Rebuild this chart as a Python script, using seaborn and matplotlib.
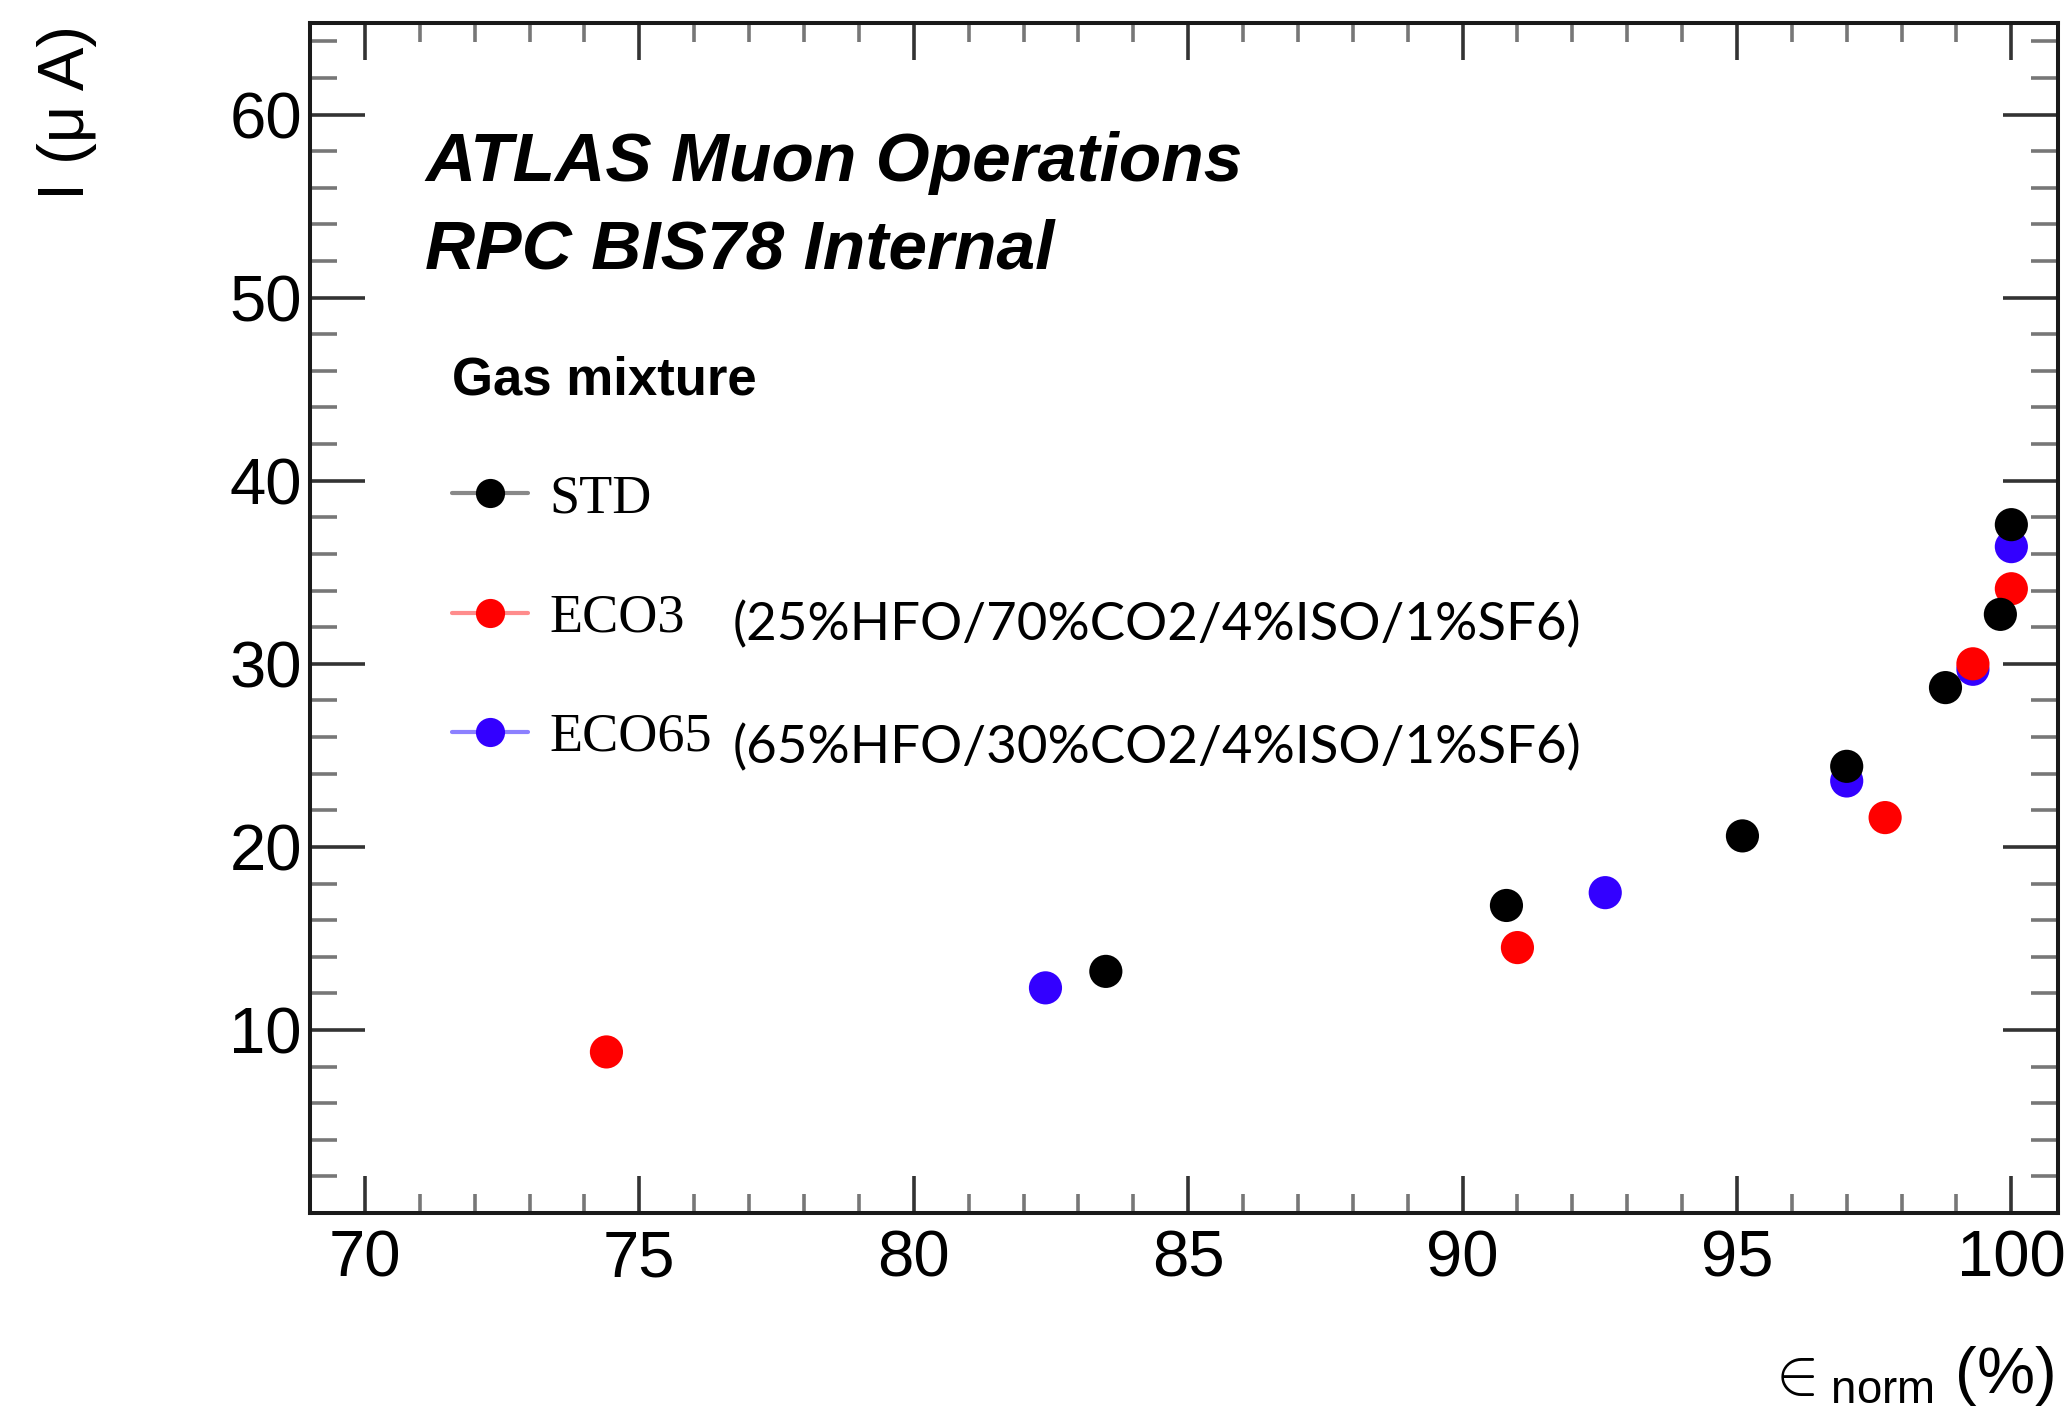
import matplotlib
matplotlib.use("Agg")
import matplotlib.pyplot as plt
from matplotlib.lines import Line2D
from matplotlib.ticker import MultipleLocator
import pandas as pd
import seaborn as sns

# Données : efficacité normalisée (%) et courant (uA)
std_eff = [83.5, 90.8, 95.1, 97.0, 98.8, 99.8, 100.0]
std_cur = [13.2, 16.8, 20.6, 24.4, 28.7, 32.7, 37.6]

eco3_eff = [74.4, 91.0, 97.7, 99.3, 100.0]
eco3_cur = [8.8, 14.5, 21.6, 30.0, 34.1]

eco65_eff = [82.4, 92.6, 97.0, 99.3, 100.0]
eco65_cur = [12.3, 17.5, 23.6, 29.7, 36.4]

mixtures = ["STD", "ECO3", "ECO65"]
compositions = {"ECO3": "(25%HFO/70%CO2/4%ISO/1%SF6)",
                "ECO65": "(65%HFO/30%CO2/4%ISO/1%SF6)"}
colors = {"STD": "black", "ECO3": "#ff0000", "ECO65": "#3300ff"}
line_colors = {"STD": "#888888", "ECO3": "#ff8c8c", "ECO65": "#8c80ff"}

# ECO65 d'abord, STD en dernier (dessiné au-dessus)
df = pd.concat([
    pd.DataFrame({"eff": eco65_eff, "cur": eco65_cur, "mix": "ECO65"}),
    pd.DataFrame({"eff": eco3_eff, "cur": eco3_cur, "mix": "ECO3"}),
    pd.DataFrame({"eff": std_eff, "cur": std_cur, "mix": "STD"}),
], ignore_index=True)

sns.set_style("white")
plt.rcParams["font.family"] = ["Liberation Sans", "DejaVu Sans"]
plt.rcParams["text.color"] = "black"
plt.rcParams["axes.labelcolor"] = "black"
plt.rcParams["mathtext.fontset"] = "custom"
plt.rcParams["mathtext.rm"] = "Liberation Sans"
plt.rcParams["mathtext.it"] = "Liberation Sans:italic"
plt.rcParams["mathtext.bf"] = "Liberation Sans:bold"

fig = plt.figure(figsize=(20.7, 14.12), dpi=100)
ax = fig.add_axes([0.1498, 0.1409, 0.8444, 0.8428])

sns.scatterplot(data=df, x="eff", y="cur", hue="mix", palette=colors,
                s=570, linewidth=0, legend=False, ax=ax)

ax.set_xlim(69, 100.85)
ax.set_ylim(0, 65)

# Style ROOT : graduations vers l'intérieur sur les quatre côtés
ax.xaxis.set_major_locator(MultipleLocator(5))
ax.xaxis.set_minor_locator(MultipleLocator(1))
ax.yaxis.set_major_locator(MultipleLocator(10))
ax.yaxis.set_minor_locator(MultipleLocator(2))
ax.set_yticks([10, 20, 30, 40, 50, 60])

for side in ["left", "right", "top", "bottom"]:
    ax.spines[side].set_linewidth(2.9)
    ax.spines[side].set_color("#1a1a1a")

ax.tick_params(axis="x", which="major", direction="in", length=26.5, width=2.6,
               color="#333333", labelcolor="black", top=True, bottom=True,
               labelsize=47, pad=12)
ax.tick_params(axis="x", which="minor", direction="in", length=13.5, width=2.6,
               color="#777777", top=True, bottom=True)
ax.tick_params(axis="y", which="major", direction="in", length=39.5, width=2.6,
               color="#333333", labelcolor="black", left=True, right=True,
               labelsize=47, pad=6)
ax.tick_params(axis="y", which="minor", direction="in", length=19.5, width=2.6,
               color="#777777", left=True, right=True)

ax.set_xlabel(r"$\in_{\mathrm{norm}}$ (%)", fontsize=47, loc="right")
ax.xaxis.set_label_coords(0.998, -0.110)
ax.set_ylabel("I (μ A)", fontsize=47, loc="top")
ax.yaxis.set_label_coords(-0.122, 0.998)

# Textes ATLAS
fig.text(0.2053, 0.872, "ATLAS Muon Operations", fontsize=50,
         fontweight="bold", fontstyle="italic", va="baseline")
fig.text(0.2053, 0.810, "RPC BIS78 Internal", fontsize=50,
         fontweight="bold", fontstyle="italic", va="baseline")

# Légende
handles = [Line2D([], [], color=line_colors[m], lw=3, marker="o", ms=21,
                  markerfacecolor=colors[m], markeredgewidth=0)
           for m in mixtures]
leg = ax.legend(handles, mixtures, title="Gas mixture", loc="upper left",
                bbox_to_anchor=(0.2185, 0.7485), bbox_transform=fig.transFigure,
                frameon=False, prop={"family": "Liberation Serif", "size": 39},
                title_fontproperties={"family": "Liberation Sans",
                                      "weight": "bold", "size": 38},
                alignment="left", handlelength=1.39, handletextpad=0.4,
                labelspacing=1.27, borderpad=0, borderaxespad=0)

fig.text(0.354, 0.5467, compositions["ECO3"], fontsize=38,
         family=["Lato", "DejaVu Sans"], va="baseline")
fig.text(0.354, 0.4596, compositions["ECO65"], fontsize=38,
         family=["Lato", "DejaVu Sans"], va="baseline")

fig.savefig("out.png", dpi=100)
